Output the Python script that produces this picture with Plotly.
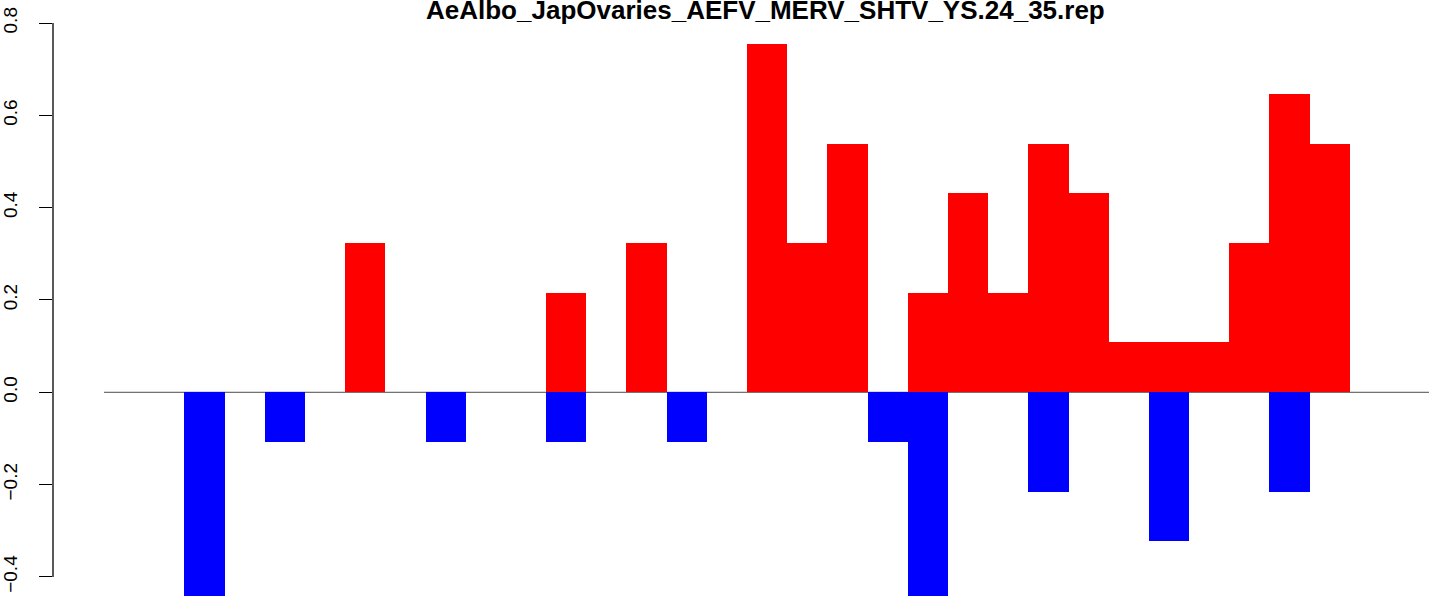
import plotly.graph_objects as go

# Slot positions (33 slots)
positions = list(range(1, 34))

# Red (positive) values per position
red_pos = [7, 12, 14, 17, 18, 19, 21, 22, 23, 24, 25, 26, 27, 28, 29, 30, 31]
red_val = [0.323, 0.216, 0.323, 0.755, 0.323, 0.539, 0.216, 0.431, 0.216, 0.539,
           0.431, 0.108, 0.108, 0.108, 0.323, 0.647, 0.539]

# Blue (negative) values per position
blue_pos = [3, 5, 9, 12, 15, 20, 21, 24, 27, 30]
blue_val = [-0.539, -0.108, -0.108, -0.108, -0.108, -0.108, -0.539, -0.216, -0.323, -0.216]

y_ticks = [-0.4, -0.2, 0.0, 0.2, 0.4, 0.6, 0.8]
y_tick_text = ["\u22120.4", "\u22120.2", "0.0", "0.2", "0.4", "0.6", "0.8"]

title = "AeAlbo_JapOvaries_AEFV_MERV_SHTV_YS.24_35.rep"

fig = go.Figure()
fig.add_trace(go.Bar(x=red_pos, y=red_val, width=1, marker=dict(color="#ff0000", line=dict(width=0)),
                     showlegend=False, hoverinfo="skip"))
fig.add_trace(go.Bar(x=blue_pos, y=blue_val, width=1, marker=dict(color="#0000ff", line=dict(width=0)),
                     showlegend=False, hoverinfo="skip"))

fig.add_shape(type="line", xref="x", yref="y", x0=positions[0] - 0.5, x1=positions[-1] + 0.5,
              y0=0, y1=0, line=dict(color="#4d4d4d", width=1), layer="below")
fig.add_shape(type="line", xref="paper", yref="y", x0=0, x1=0, y0=y_ticks[0], y1=y_ticks[-1],
              line=dict(color="black", width=1.3))

fig.add_annotation(text="<b>" + title + "</b>", xref="paper", yref="paper", x=0.518, y=0.9832,
                   xanchor="center", yanchor="middle", showarrow=False,
                   font=dict(family="Liberation Sans, Arial, sans-serif", size=26, color="black"))

fig.update_layout(
    width=1429, height=596,
    margin=dict(l=51, r=0, t=0, b=0),
    paper_bgcolor="white", plot_bgcolor="white",
    barmode="overlay", bargap=0,
    font=dict(family="Liberation Sans, Arial, sans-serif", size=19, color="black"),
    xaxis=dict(range=[-0.77, 33.47], visible=False, showgrid=False, zeroline=False),
    yaxis=dict(range=[-0.4414, 0.850], tickvals=y_ticks, ticktext=y_tick_text, tickangle=-90,
               ticks="outside", ticklen=13, tickwidth=1.3, tickcolor="black",
               showline=False, showgrid=False, zeroline=False, ticklabelstandoff=14,
               tickfont=dict(size=19)),
)

fig.write_html("out.html", config={"displayModeBar": False},
               post_script="document.body.style.margin='0';")
